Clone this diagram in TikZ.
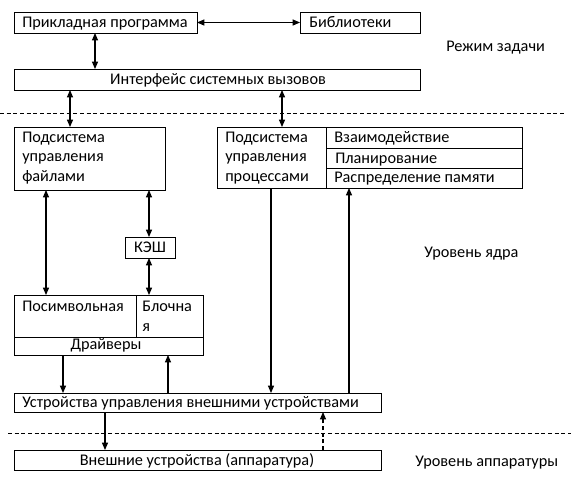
\documentclass[tikz,border=0pt]{standalone}
\usepackage{fontspec}
\setmainfont{Carlito}
\usetikzlibrary{arrows.meta}
\newcommand\bx[6]{\node[box,minimum width={(#4-#2)*0.75pt},minimum height={(#5-#3)*0.75pt},#6] (#1) at (#2,#3) {};}
\begin{document}
\begin{tikzpicture}[x=0.75pt,y=-0.75pt,
  font=\fontsize{12.2}{14.5}\selectfont,
  box/.style={draw,line width=0.75pt,inner sep=0pt,outer sep=0pt,anchor=north west},
  lbl/.style={inner sep=0pt,anchor=base west},
  clbl/.style={inner sep=0pt,anchor=base},
  tip/.tip={Triangle[length=5.5pt,width=4.5pt]},
  arr/.style={line width=0.8pt,-tip},
  darr/.style={line width=0.8pt,tip-tip},
  sep/.style={line width=0.75pt,dash pattern=on 3pt off 2pt}]
\useasboundingbox (0,0) rectangle (571,483);
% boxes
\bx{app}{14}{12}{197}{33}{}
\bx{lib}{300}{12}{420}{33}{}
\bx{iface}{14}{69}{420}{90}{}
\bx{fs}{14}{127}{165}{190}{}
\bx{proc}{217}{127}{522}{188}{}
\bx{cache}{125}{237}{175}{258}{}
\bx{drv}{14}{295}{203}{355}{}
\bx{dev}{14}{393}{381}{412}{}
\bx{hw}{14}{450}{381}{470}{}
% table dividers
\coordinate (pv1) at (326,127);
\coordinate (pv2) at (326,188);
\coordinate (ph1) at (326,148);
\coordinate (ph2) at (326,168);
\draw[line width=0.75pt] (pv1) -- (pv2);
\draw[line width=0.75pt] (ph1) -- (ph1 -| proc.east);
\draw[line width=0.75pt] (ph2) -- (ph2 -| proc.east);
\coordinate (dv1) at (136,295);
\coordinate (dh1) at (14,337);
\draw[line width=0.75pt] (dv1) -- (dv1 |- dh1);
\draw[line width=0.75pt] (dh1) -- (dh1 -| drv.east);
% texts
\node[lbl] (tapp) at (22,27) {Прикладная программа};
\node[lbl] (tlib) at (309,27) {Библиотеки};
\node[clbl] (tiface) at (218,84) {Интерфейс системных вызовов};
\node[lbl] (tmode) at (446,51) {Режим задачи};
\node[lbl] (tfs1) at (22,142) {Подсистема};
\node[lbl] (tfs2) at (22,161) {управления};
\node[lbl] (tfs3) at (22,181) {файлами};
\node[lbl] (tpr1) at (225,142) {Подсистема};
\node[lbl] (tpr2) at (225,161) {управления};
\node[lbl] (tpr3) at (225,181) {процессами};
\node[lbl] (tint) at (334,142) {Взаимодействие};
\node[lbl] (tplan) at (335,163) {Планирование};
\node[lbl] (tmem) at (334,182) {Распределение памяти};
\node[clbl] (tcache) at (150,252) {КЭШ};
\node[lbl] (tkern) at (424,257) {Уровень ядра};
\node[lbl] (tchr) at (22,311) {Посимвольная};
\node[lbl] (tblk1) at (142,311) {Блочна};
\node[lbl] (tblk2) at (142,331) {я};
\node[clbl] (tdrv) at (106,349) {Драйверы};
\node[lbl] (tdev) at (22,407) {Устройства управления внешними устройствами};
\node[clbl] (thw) at (197,465) {Внешние устройства (аппаратура)};
\node[lbl] (thwl) at (415,466) {Уровень аппаратуры};
% separators
\coordinate (s1a) at (0,113);
\coordinate (s1b) at (566,113);
\coordinate (s2a) at (8,433);
\coordinate (s2b) at (571,433);
\draw[sep] (s1a) -- (s1b);
\draw[sep] (s2a) -- (s2b);
% connectors
\draw[darr] (app.east) -- (lib.west);
\draw[darr] (app.south -| 95,0) -- (iface.north -| 95,0);
\draw[darr] (iface.south -| 70,0) -- (fs.north -| 70,0);
\draw[darr] (iface.south -| 282,0) -- (proc.north -| 282,0);
\draw[darr] (fs.south -| 46,0) -- (drv.north -| 46,0);
\draw[darr] (fs.south -| 149,0) -- (cache.north -| 149,0);
\draw[darr] (cache.south -| 149,0) -- (drv.north -| 149,0);
\draw[arr] (drv.south -| 63,0) -- (dev.north -| 63,0);
\draw[arr] (dev.north -| 168,0) -- (drv.south -| 168,0);
\draw[arr] (proc.south -| 271,0) -- (dev.north -| 271,0);
\draw[arr] (dev.north -| 349,0) -- (proc.south -| 349,0);
\draw[arr] (dev.south -| 105,0) -- (hw.north -| 105,0);
\draw[arr,dash pattern=on 3pt off 2pt] (hw.north -| 323,0) -- (dev.south -| 323,0);
\end{tikzpicture}
\end{document}
